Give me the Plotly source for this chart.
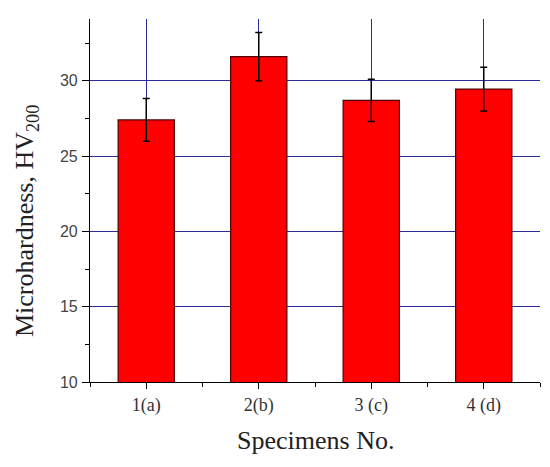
import plotly.graph_objects as go

categories = ["1(a)", "2(b)", "3 (c)", "4 (d)"]
positions = [1, 2, 3, 4]
hardness = [27.4, 31.6, 28.7, 29.45]
errors = [1.42, 1.6, 1.4, 1.45]

fig = go.Figure()
fig.add_trace(go.Bar(
    x=positions, y=hardness, width=0.5,
    marker=dict(color="#ff0000", line=dict(color="#500000", width=1.2)),
    error_y=dict(type="data", array=errors, visible=True, color="black",
                 thickness=1.5, width=3.5),
))

fig.update_layout(
    width=542, height=459,
    margin=dict(l=82, r=10, t=11, b=85),
    paper_bgcolor="white", plot_bgcolor="white",
    showlegend=False,
    xaxis=dict(
        range=[0.5, 4.5], tickvals=positions, ticktext=categories,
        showgrid=True, gridcolor="#2b2b9b", gridwidth=1.2,
        showline=True, linecolor="black", linewidth=1.2,
        ticks="outside", ticklen=6, tickcolor="black",
        tickfont=dict(family="Liberation Serif", size=18, color="#333333"),
        minor=dict(tickvals=[0.5, 1.5, 2.5, 3.5, 4.5], ticks="outside",
                   ticklen=4, tickcolor="black", showgrid=False),
        zeroline=False,
    ),
    yaxis=dict(
        range=[10, 34.1], tickvals=[10, 15, 20, 25, 30],
        showgrid=True, gridcolor="#2b2b9b", gridwidth=1.2,
        showline=True, linecolor="black", linewidth=1.2,
        ticks="outside", ticklen=7, tickcolor="black",
        tickfont=dict(family="Liberation Sans", size=16, color="#444444"),
        ticklabelstandoff=1,
        minor=dict(dtick=2.5, tick0=0, ticks="outside", ticklen=4,
                   tickcolor="black", showgrid=False),
        zeroline=False,
    ),
    annotations=[
        dict(text="Microhardness, HV<sub>200</sub>", textangle=-90,
             xref="paper", yref="paper", x=-0.142, y=0.4435,
             xanchor="center", yanchor="middle", showarrow=False,
             font=dict(family="Liberation Serif", size=26, color="#222222")),
        dict(text="Specimens No.",
             xref="paper", yref="paper", x=0.5, y=-0.16,
             xanchor="center", yanchor="middle", showarrow=False,
             font=dict(family="Liberation Serif", size=26, color="#222222")),
    ],
)

fig.write_html("out.html")
